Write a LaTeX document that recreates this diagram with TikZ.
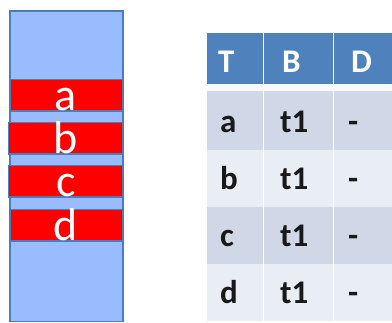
\documentclass[tikz,border=0pt]{standalone}
\usepackage{fontspec}
\setmainfont{Carlito}
\definecolor{edgeblue}{RGB}{74,126,187}
\definecolor{lightfill}{RGB}{153,187,255}
\definecolor{barred}{RGB}{255,0,0}
\definecolor{headblue}{RGB}{79,129,189}
\definecolor{rowdark}{RGB}{208,216,232}
\definecolor{rowlight}{RGB}{233,237,244}
\definecolor{txtdark}{RGB}{25,25,25}
\tikzset{
  stackbox/.style={draw=edgeblue, line width=1.4pt, fill=lightfill},
  redbar/.style={draw=edgeblue, line width=1.4pt, fill=barred},
  barlabel/.style={anchor=base, inner sep=0pt, text=white, font=\fontsize{46}{46}\selectfont},
  headtxt/.style={anchor=base west, inner sep=0pt, text=white, font=\bfseries\fontsize{33}{33}\selectfont},
  celltxt/.style={anchor=base west, inner sep=0pt, text=txtdark, font=\bfseries\fontsize{33}{33}\selectfont},
  colsep/.style={draw=white, line width=1.5pt},
}
\begin{document}
\begin{tikzpicture}[x=1pt,y=-1pt]
\useasboundingbox (0,0) rectangle (392,323);
% left stack
\path[stackbox] (10,11) rectangle (123,321.5);
\path[redbar] (10.5,79.5) rectangle (122.5,111);
\path[redbar] (8.5,122.5) rectangle (122.5,154);
\path[redbar] (8.5,165.5) rectangle (122.5,197);
\path[redbar] (10.5,209.5) rectangle (122.5,241);
\node[barlabel] (la) at (66,111) {a};
\node[barlabel] (lb) at (66,153.5) {b};
\node[barlabel] (lc) at (66,196.5) {c};
\node[barlabel] (ld) at (66,240.5) {d};
% table
\fill[headblue] (207,33) rectangle (392,85);
\fill[rowdark] (207,85) rectangle (392,150);
\fill[rowlight] (207,150) rectangle (392,207);
\fill[rowdark] (207,207) rectangle (392,264);
\fill[rowlight] (207,264) rectangle (392,321);
\fill[white!60!rowlight] (207,85) rectangle (392,91);
\path[colsep] (263.5,33) -- (263.5,321);
\path[colsep] (333.5,33) -- (333.5,321);
\path[draw=white, line width=1pt] (207,85) -- (392,85);
\node[headtxt] (hT) at (218,73) {T};
\node[headtxt] (hB) at (282,73) {B};
\node[headtxt] (hD) at (351,73) {D};
\node[celltxt] (ra) at (220,133) {a};
\node[celltxt] (rat) at (280,133) {t1};
\node[celltxt] (rad) at (348,133) {-};
\node[celltxt] (rb) at (220,190) {b};
\node[celltxt] (rbt) at (280,190) {t1};
\node[celltxt] (rbd) at (348,190) {-};
\node[celltxt] (rc) at (220,247) {c};
\node[celltxt] (rct) at (280,247) {t1};
\node[celltxt] (rcd) at (348,247) {-};
\node[celltxt] (rd) at (220,304) {d};
\node[celltxt] (rdt) at (280,304) {t1};
\node[celltxt] (rdd) at (348,304) {-};
\end{tikzpicture}
\end{document}
